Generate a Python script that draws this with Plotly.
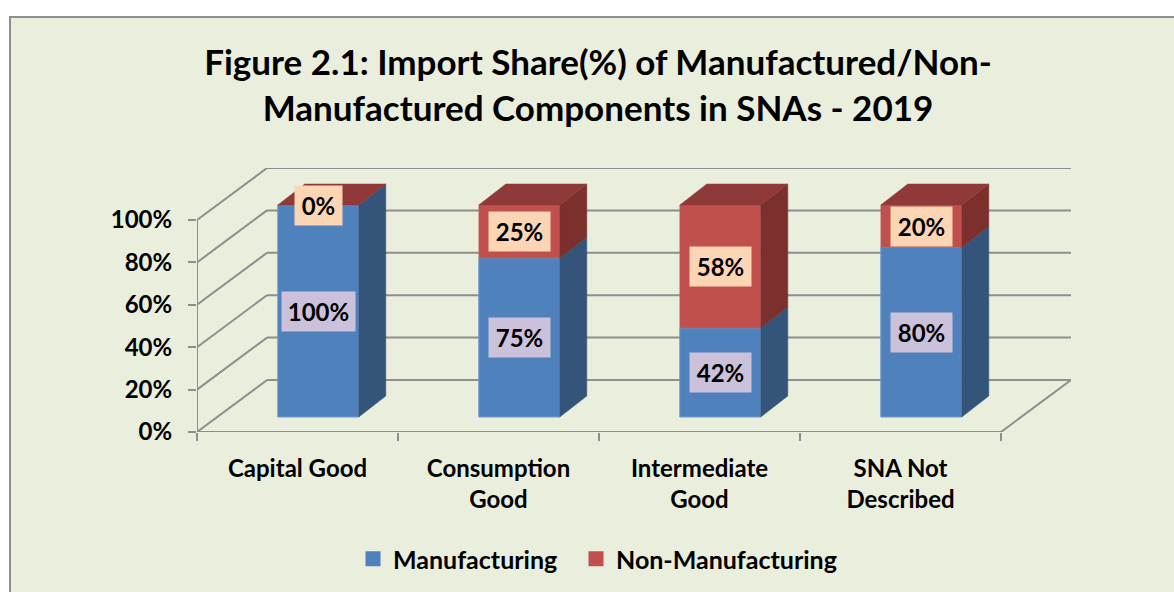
import plotly.graph_objects as go

categories = ["Capital Good", "Consumption Good", "Intermediate Good", "SNA Not Described"]
category_ticks = ["<b>Capital Good</b>", "<b>Consumption</b><br><b>Good</b>", "<b>Intermediate</b><br><b>Good</b>", "<b>SNA Not</b><br><b>Described</b>"]
manufacturing = [100, 75, 42, 80]
non_manufacturing = [0, 25, 58, 20]
y_ticks = [0, 20, 40, 60, 80, 100]

FONT = "Lato"
GREY = "#8E8E8E"
BLUE, BLUE_SIDE = "#4F81BD", "#345479"
RED, RED_SIDE, RED_TOP = "#C0504D", "#7C302E", "#8F3A38"

# Pseudo-3D geometry in axis units
PX_X, PX_Y = 201.0, 2.12
WALL_DX, WALL_DY = 70 / PX_X, 52 / PX_Y
BAR_DX, BAR_DY = 27 / PX_X, 21 / PX_Y
BAR_SHIFT, FLOOR = 20.8 / PX_X, 15 / PX_Y
BAR_W = 81 / PX_X
X0, X1 = -0.5, len(categories) - 0.5

idx = list(range(len(categories)))
xpos = [i + BAR_SHIFT for i in idx]
base_m = [FLOOR] * len(idx)
base_n = [FLOOR + m for m in manufacturing]

fig = go.Figure()
fig.add_bar(x=xpos, y=manufacturing, base=base_m, width=BAR_W, showlegend=False,
            marker=dict(color=BLUE, line=dict(color="#6E98CB", width=1)))
fig.add_bar(x=xpos, y=non_manufacturing, base=base_n, width=BAR_W, showlegend=False,
            marker=dict(color=RED, line=dict(color="#C9625F", width=0.5)))


def polys(items):
    xs, ys = [], []
    for px, py in items:
        xs += px + [px[0], None]
        ys += py + [py[0], None]
    return xs, ys


side_m, side_n, top_n = [], [], []
for i, x in enumerate(xpos):
    r = x + BAR_W / 2
    l = x - BAR_W / 2
    y0, y1, y2 = base_m[i], base_n[i], base_n[i] + non_manufacturing[i]
    side_m.append(([r, r + BAR_DX, r + BAR_DX, r], [y0, y0 + BAR_DY, y1 + BAR_DY, y1]))
    if non_manufacturing[i] > 0:
        side_n.append(([r, r + BAR_DX, r + BAR_DX, r], [y1, y1 + BAR_DY, y2 + BAR_DY, y2]))
    top_n.append(([l, l + BAR_DX, r + BAR_DX, r], [y2, y2 + BAR_DY, y2 + BAR_DY, y2]))

for items, col in ((side_m, BLUE_SIDE), (side_n, RED_SIDE), (top_n, RED_TOP)):
    xs, ys = polys(items)
    fig.add_scatter(x=xs, y=ys, mode="lines", fill="toself", fillcolor=col,
                    line=dict(color=col, width=0.5), showlegend=False, hoverinfo="skip")

# legend keys, one legend per key so each sits at its own position
for name, col, leg in (("<b>Manufacturing</b>", BLUE, "legend"), ("<b>Non-Manufacturing</b>", RED, "legend2")):
    fig.add_scatter(x=[None], y=[None], mode="markers", name=name, legend=leg,
                    marker=dict(symbol="square", size=15, color=col))

annotations = []
for i, x in enumerate(xpos):
    for base, val, bg in ((base_m[i], manufacturing[i], "#CCC1DA"), (base_n[i], non_manufacturing[i], "#FCD5B5")):
        annotations.append(dict(x=x, y=base + val / 2, text=f"<b>{val}%</b>", showarrow=False,
                                bgcolor=bg, height=37, width=71 if val == 100 else (45 if val == 0 else 59),
                                font=dict(family=FONT, size=24, color="#000000")))

shapes = [dict(type="rect", xref="paper", yref="paper", layer="below",
               x0=(10 - 197) / 874, x1=(1190 - 197) / 874, y0=-200 / 264, y1=(432 - 17) / 264,
               fillcolor="#EAEEDD", line=dict(color=GREY, width=2))]
line = dict(color=GREY, width=2)
for v in y_ticks:
    shapes.append(dict(type="line", layer="below", x0=X0, y0=v, x1=X0 + WALL_DX, y1=v + WALL_DY, line=line))
    shapes.append(dict(type="line", layer="below", x0=X0 + WALL_DX, y0=v + WALL_DY,
                       x1=X1 + WALL_DX, y1=v + WALL_DY, line=line))
shapes.append(dict(type="line", layer="below", x0=X1, y0=0, x1=X1 + WALL_DX, y1=WALL_DY, line=line))
shapes.append(dict(type="line", layer="below", x0=X0, y0=0, x1=X1, y1=0, line=line))
shapes.append(dict(type="line", layer="below", x0=X0, y0=0, x1=X0, y1=100, line=line))

legend_style = dict(orientation="h", xanchor="left", xref="container", y=1 - 559 / 592, yanchor="middle",
                    yref="container", font=dict(family=FONT, size=25, color="#000000"),
                    bgcolor="rgba(0,0,0,0)", itemclick=False, itemdoubleclick=False, itemwidth=30)

fig.update_layout(
    width=1174, height=592, autosize=False,
    margin=dict(l=197, r=103, t=168, b=160),
    paper_bgcolor="#FFFFFF", plot_bgcolor="rgba(0,0,0,0)",
    barmode="overlay", showlegend=True,
    font=dict(family=FONT, color="#000000"),
    title=dict(text="<b>Figure 2.1: Import Share(%) of Manufactured/Non-</b><br><b>Manufactured Components in SNAs - 2019</b>",
               x=598 / 1174, xanchor="center", xref="container", y=1 - 75 / 592, yanchor="middle",
               yref="container", font=dict(family=FONT, size=35, color="#000000")),
    legend=dict(x=353 / 1174, **legend_style),
    legend2=dict(x=576 / 1174, **legend_style),
    xaxis=dict(range=[X0, X1 + WALL_DX], tickmode="array", tickvals=idx, ticktext=category_ticks,
               ticks="", showgrid=False, zeroline=False, showline=False, ticklabelstandoff=20,
               tickfont=dict(family=FONT, size=24, color="#000000"),
               minor=dict(tickmode="array", tickvals=[i - 0.5 for i in idx] + [X1], ticks="outside",
                          ticklen=8, tickwidth=2, tickcolor=GREY, showgrid=False)),
    yaxis=dict(range=[0, 264 / PX_Y], tickmode="array", tickvals=y_ticks, ticktext=[f"<b>{v}%</b>" for v in y_ticks],
               ticks="outside", ticklen=8, tickwidth=2, tickcolor=GREY, showgrid=False, zeroline=False,
               showline=False, ticklabelstandoff=11, tickfont=dict(family=FONT, size=24, color="#000000")),
    shapes=shapes, annotations=annotations,
)
fig.write_html("out.html", config=dict(displayModeBar=False),
               post_script="document.body.style.margin='0';document.body.style.overflow='hidden';")
